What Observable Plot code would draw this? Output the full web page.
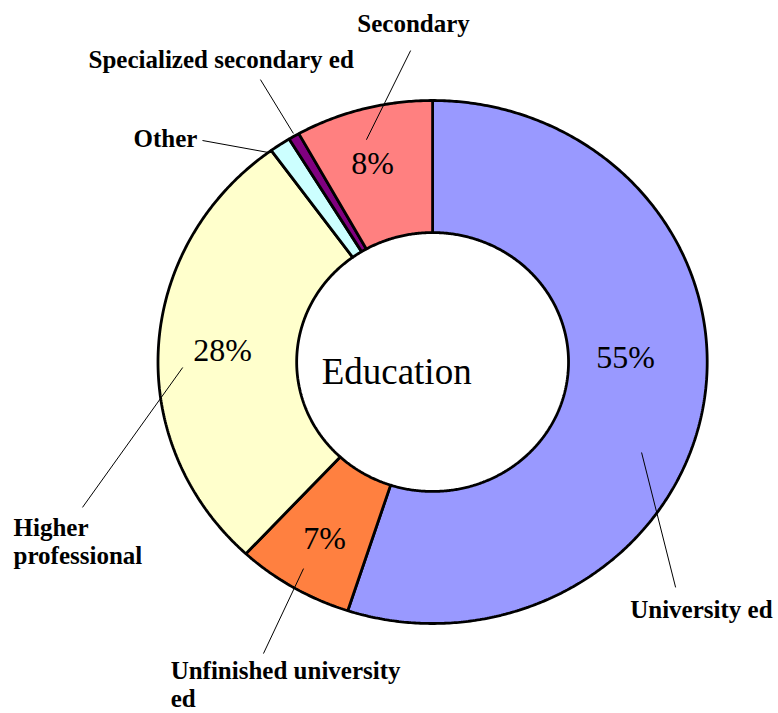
<!DOCTYPE html>
<html><head><meta charset="utf-8">
<script src="https://cdn.jsdelivr.net/npm/d3@7"></script>
<script src="https://cdn.jsdelivr.net/npm/@observablehq/plot@0.6"></script>
<style>body{margin:0;background:#fff} svg{display:block}</style>
</head><body><div id="chart"></div>
<script>
// Data (clockwise from 12 o'clock)
const categories = ["University ed", "Unfinished university\ned", "Higher\nprofessional", "Other", "Specialized secondary ed", "Secondary"];
const values = [55, 6.9, 28.1, 1.25, 0.65, 8.1];
const colors = ["#9999FF", "#FF8040", "#FFFFCC", "#CCFFFF", "#800080", "#FF8080"];
const centerTitle = "Education";

// Layout (normalized ring units: outer radius = 1)
const innerRatio = 0.495;
const pctPos = [[0.703, 0.017], [-0.393, -0.675], [-0.765, 0.044], null, null, [-0.219, 0.759]];
const leaderFrom = [[0.761, -0.346], [-0.470, -0.790], [-0.910, -0.021], [-0.597, 0.801], [-0.507, 0.874], [-0.241, 0.850]];
const leaderTo = [[0.885, -0.862], [-0.616, -1.115], [-1.275, -0.556], [-0.838, 0.847], [-0.627, 1.080], [-0.080, 1.191]];
// [x, y, anchor]
const labelPos = [[1.238, -0.943, "end"], [-0.954, -1.233, "start"], [-1.526, -0.686, "start"], [-1.089, 0.858, "start"], [-1.253, 1.160, "start"], [-0.274, 1.298, "start"]];

const total = d3.sum(values);
const arcs = [];
let start = 0;
values.forEach((v, i) => {
  const a0 = start, a1 = start + v / total * 360;
  start = a1;
  const n = Math.max(2, Math.ceil((a1 - a0) / 0.5));
  const pts = [];
  for (let k = 0; k <= n; k++) {
    const a = (a0 + (a1 - a0) * k / n) * Math.PI / 180;
    pts.push({name: categories[i], u: Math.sin(a), v: Math.cos(a)});
  }
  for (let k = n; k >= 0; k--) {
    const a = (a0 + (a1 - a0) * k / n) * Math.PI / 180;
    pts.push({name: categories[i], u: innerRatio * Math.sin(a), v: innerRatio * Math.cos(a)});
  }
  arcs.push(...pts);
});

const pctData = values.map((v, i) => ({text: Math.round(v / total * 100) + "%", p: pctPos[i]})).filter(d => d.p);
const leaders = categories.map((c, i) => ({x1: leaderFrom[i][0], y1: leaderFrom[i][1], x2: leaderTo[i][0], y2: leaderTo[i][1]}));
const labels = categories.map((c, i) => ({text: c, u: labelPos[i][0], v: labelPos[i][1], anchor: labelPos[i][2]}));

const labelStyle = {x: "u", y: "v", text: "text", fontSize: 25, fontWeight: "bold", fontFamily: "Liberation Serif", lineHeight: 1.12, fill: "black"};

const chart = Plot.plot({
  width: 778,
  height: 713,
  margin: 0,
  style: {background: "#fff"},
  x: {domain: [-1, 1], range: [157.5, 706.7], axis: null},
  y: {domain: [-1, 1], range: [623, 100], axis: null},
  color: {domain: categories, range: colors},
  marks: [
    Plot.line(arcs, {x: "u", y: "v", z: "name", fill: "name", stroke: "black", strokeWidth: 2.8, strokeLinejoin: "miter", curve: "linear-closed"}),
    Plot.link(leaders, {x1: "x1", y1: "y1", x2: "x2", y2: "y2", stroke: "black", strokeWidth: 1}),
    Plot.text(pctData, {x: d => d.p[0], y: d => d.p[1], text: "text", fontSize: 32, fontFamily: "Liberation Serif", fill: "black"}),
    Plot.text([centerTitle], {x: [-0.131], y: [-0.040], text: d => d, fontSize: 37, fontFamily: "Liberation Serif", fill: "black"}),
    Plot.text(labels.filter(d => d.anchor === "start"), {...labelStyle, textAnchor: "start"}),
    Plot.text(labels.filter(d => d.anchor === "end"), {...labelStyle, textAnchor: "end"})
  ]
});
document.getElementById("chart").append(chart);
</script>
</body></html>
